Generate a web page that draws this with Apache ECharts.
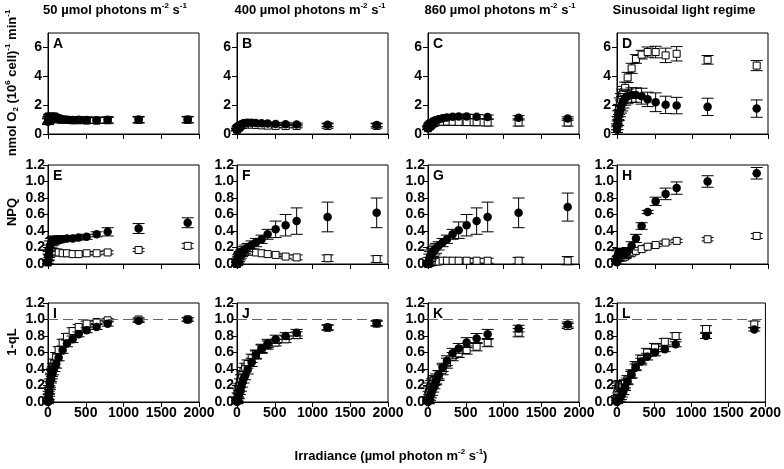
<!DOCTYPE html>
<html><head><meta charset="utf-8">
<script src="https://cdn.jsdelivr.net/npm/echarts@6/dist/echarts.min.js"></script>
<style>html,body{margin:0;padding:0;background:#fff}#c{width:784px;height:469px}</style>
</head><body><div id="c"></div>
<script>
// ---------------- DATA ----------------
const irradiance = [0, 8, 16, 26, 38, 52, 68, 86, 108, 141, 194, 251, 326, 406, 512, 644, 790, 1200, 1850];
const xTicks = [0, 500, 1000, 1500, 2000];
const o2Ticks = [0, 2, 4, 6];
const fracTicks = [0.0, 0.2, 0.4, 0.6, 0.8, 1.0, 1.2];
const columnTitles = ['50 µmol photons m^-2 s^-1', '400 µmol photons m^-2 s^-1', '860 µmol photons m^-2 s^-1', 'Sinusoidal light regime'];
const panelLetters = ['A','B','C','D','E','F','G','H','I','J','K','L'];

// Row 1: O2 evolution
const A_filled    = [0.85,0.95,1.05,1.1,1.15,1.15,1.12,1.1,1.05,1.0,1.0,0.98,0.97,0.98,0.97,0.95,0.98,1.0,1.0];
const A_filledErr = [0.2,0.22,0.25,0.25,0.25,0.25,0.25,0.25,0.25,0.22,0.22,0.22,0.22,0.22,0.22,0.22,0.22,0.22,0.22];
const A_open      = [0.9,1.0,1.1,1.15,1.2,1.2,1.18,1.15,1.1,1.05,1.0,0.98,0.95,0.95,0.93,0.93,0.95,0.97,0.98];
const A_openErr   = [0.2,0.22,0.25,0.25,0.25,0.25,0.22,0.2,0.2,0.2,0.2,0.2,0.2,0.2,0.2,0.2,0.2,0.2,0.2];

const B_filled    = [0.3,0.4,0.48,0.55,0.6,0.65,0.7,0.74,0.77,0.78,0.78,0.77,0.75,0.72,0.7,0.68,0.66,0.64,0.63];
const B_filledErr = [0.08,0.1,0.1,0.1,0.1,0.1,0.1,0.1,0.1,0.1,0.1,0.1,0.1,0.1,0.1,0.1,0.1,0.12,0.12];
const B_open      = [0.3,0.38,0.45,0.5,0.55,0.58,0.62,0.65,0.67,0.66,0.65,0.63,0.6,0.58,0.56,0.55,0.55,0.55,0.56];
const B_openErr   = [0.08,0.1,0.1,0.12,0.12,0.12,0.12,0.12,0.12,0.12,0.12,0.12,0.12,0.12,0.12,0.12,0.12,0.15,0.15];

const C_filled    = [0.4,0.5,0.58,0.65,0.72,0.78,0.84,0.9,0.96,1.02,1.1,1.15,1.2,1.22,1.22,1.2,1.17,1.12,1.07];
const C_filledErr = [0.1,0.1,0.12,0.12,0.12,0.12,0.12,0.12,0.15,0.15,0.15,0.15,0.15,0.15,0.15,0.15,0.15,0.15,0.12];
const C_open      = [0.4,0.48,0.55,0.62,0.67,0.72,0.76,0.8,0.82,0.84,0.85,0.86,0.85,0.84,0.83,0.82,0.8,0.8,0.8];
const C_openErr   = [0.1,0.12,0.15,0.15,0.18,0.2,0.2,0.2,0.22,0.22,0.22,0.25,0.25,0.25,0.25,0.25,0.25,0.25,0.25];

const D_filled    = [0.3,0.6,0.9,1.3,1.6,1.9,2.1,2.3,2.5,2.6,2.7,2.7,2.62,2.4,2.2,2.02,1.97,1.88,1.76];
const D_filledErr = [0.2,0.3,0.3,0.35,0.4,0.45,0.5,0.5,0.5,0.5,0.5,0.5,0.55,0.5,0.65,0.6,0.57,0.6,0.6];
const D_open      = [0.5,0.9,1.3,1.7,2.1,2.4,2.7,2.9,3.2,3.92,4.55,5.2,5.5,5.68,5.68,5.45,5.56,5.14,4.74];
const D_openErr   = [0.2,0.3,0.3,0.35,0.4,0.4,0.4,0.4,0.4,0.35,0.35,0.3,0.3,0.35,0.4,0.5,0.5,0.3,0.35];

// Row 2: NPQ
const E_filled    = [0.02,0.1,0.17,0.22,0.25,0.27,0.28,0.29,0.29,0.3,0.3,0.31,0.31,0.32,0.33,0.36,0.39,0.43,0.5];
const E_filledErr = [0.02,0.05,0.06,0.06,0.06,0.05,0.05,0.05,0.04,0.04,0.03,0.03,0.03,0.03,0.03,0.03,0.05,0.06,0.06];
const E_open      = [0.02,0.08,0.12,0.14,0.15,0.15,0.15,0.15,0.14,0.14,0.13,0.13,0.12,0.12,0.13,0.13,0.14,0.17,0.22];
const E_openErr   = [0.02,0.04,0.04,0.04,0.03,0.03,0.03,0.02,0.02,0.02,0.02,0.02,0.02,0.02,0.02,0.02,0.02,0.02,0.03];

const F_filled    = [0.0,0.03,0.06,0.08,0.1,0.12,0.14,0.16,0.18,0.2,0.23,0.26,0.3,0.36,0.42,0.47,0.52,0.57,0.62];
const F_filledErr = [0.02,0.04,0.05,0.05,0.05,0.05,0.05,0.05,0.05,0.05,0.05,0.05,0.05,0.06,0.1,0.13,0.16,0.18,0.18];
const F_open      = [0.0,0.04,0.07,0.1,0.12,0.13,0.14,0.15,0.15,0.15,0.15,0.14,0.13,0.12,0.11,0.09,0.08,0.07,0.06];
const F_openErr   = [0.02,0.02,0.02,0.02,0.02,0.02,0.02,0.02,0.02,0.02,0.02,0.02,0.02,0.02,0.02,0.02,0.03,0.04,0.04];

const G_filled    = [0.0,0.03,0.06,0.09,0.11,0.13,0.15,0.17,0.19,0.22,0.26,0.3,0.36,0.41,0.47,0.52,0.57,0.62,0.69];
const G_filledErr = [0.02,0.05,0.06,0.06,0.06,0.06,0.06,0.06,0.06,0.05,0.05,0.05,0.06,0.1,0.13,0.16,0.18,0.18,0.17];
const G_open      = [0.0,0.01,0.01,0.02,0.02,0.02,0.03,0.03,0.03,0.03,0.04,0.04,0.04,0.04,0.04,0.04,0.04,0.04,0.04];
const G_openErr   = [0.01,0.02,0.02,0.02,0.02,0.02,0.02,0.02,0.02,0.02,0.02,0.02,0.03,0.03,0.03,0.03,0.03,0.04,0.05];

const H_filled    = [0.02,0.1,0.12,0.13,0.13,0.12,0.12,0.12,0.13,0.15,0.22,0.31,0.46,0.63,0.76,0.85,0.92,1.0,1.1];
const H_filledErr = [0.02,0.06,0.06,0.06,0.06,0.05,0.05,0.05,0.05,0.05,0.05,0.05,0.04,0.02,0.05,0.07,0.075,0.07,0.07];
const H_open      = [0.05,0.07,0.08,0.08,0.08,0.08,0.08,0.08,0.09,0.11,0.13,0.16,0.18,0.21,0.23,0.26,0.28,0.3,0.34];
const H_openErr   = [0.02,0.02,0.02,0.02,0.02,0.02,0.02,0.02,0.02,0.02,0.02,0.02,0.02,0.02,0.02,0.02,0.02,0.02,0.03];

// Row 3: 1-qL
const I_filled    = [0.0,0.05,0.12,0.2,0.28,0.33,0.38,0.42,0.46,0.54,0.63,0.71,0.76,0.82,0.87,0.91,0.95,0.985,1.0];
const I_filledErr = [0.02,0.04,0.05,0.05,0.05,0.05,0.05,0.05,0.05,0.04,0.04,0.04,0.04,0.03,0.03,0.03,0.03,0.02,0.02];
const I_open      = [0.02,0.08,0.15,0.23,0.3,0.36,0.42,0.47,0.55,0.63,0.72,0.79,0.86,0.91,0.95,0.97,0.99,1.0,1.0];
const I_openErr   = [0.02,0.05,0.05,0.05,0.05,0.05,0.05,0.05,0.05,0.04,0.04,0.04,0.04,0.03,0.03,0.02,0.02,0.02,0.02];

const J_filled    = [0.0,0.02,0.05,0.09,0.14,0.18,0.23,0.28,0.32,0.39,0.48,0.57,0.65,0.71,0.76,0.8,0.84,0.905,0.955];
const J_filledErr = [0.02,0.04,0.05,0.05,0.05,0.05,0.05,0.05,0.05,0.05,0.05,0.05,0.05,0.05,0.05,0.04,0.04,0.03,0.03];
const J_open      = [0.02,0.06,0.11,0.17,0.23,0.28,0.33,0.37,0.42,0.46,0.53,0.58,0.64,0.69,0.72,0.76,0.81,0.9,0.95];
const J_openErr   = [0.02,0.05,0.05,0.05,0.05,0.05,0.05,0.05,0.05,0.05,0.05,0.05,0.05,0.05,0.04,0.04,0.04,0.03,0.03];

const K_filled    = [0.0,0.02,0.04,0.07,0.1,0.13,0.17,0.21,0.26,0.33,0.42,0.5,0.59,0.65,0.72,0.77,0.82,0.89,0.94];
const K_filledErr = [0.02,0.04,0.05,0.05,0.05,0.05,0.05,0.05,0.05,0.05,0.05,0.06,0.06,0.06,0.06,0.06,0.06,0.04,0.03];
const K_open      = [0.03,0.08,0.13,0.17,0.2,0.22,0.24,0.26,0.28,0.32,0.39,0.47,0.55,0.59,0.63,0.67,0.72,0.84,0.92];
const K_openErr   = [0.03,0.05,0.06,0.06,0.06,0.06,0.06,0.06,0.06,0.06,0.06,0.06,0.05,0.05,0.05,0.05,0.05,0.05,0.03];

const L_filled    = [0.0,0.02,0.03,0.04,0.05,0.07,0.1,0.13,0.18,0.25,0.33,0.42,0.49,0.55,0.6,0.64,0.7,0.8,0.88];
const L_filledErr = [0.02,0.03,0.03,0.04,0.04,0.04,0.04,0.04,0.04,0.04,0.04,0.04,0.04,0.04,0.04,0.03,0.03,0.03,0.02];
const L_open      = [0.05,0.12,0.17,0.19,0.2,0.2,0.2,0.2,0.22,0.27,0.34,0.44,0.52,0.6,0.66,0.73,0.8,0.885,0.94];
const L_openErr   = [0.03,0.06,0.06,0.06,0.06,0.06,0.05,0.05,0.05,0.05,0.05,0.05,0.05,0.05,0.05,0.04,0.04,0.04,0.04];

const panelData = [
  [A_filled,A_filledErr,A_open,A_openErr],[B_filled,B_filledErr,B_open,B_openErr],
  [C_filled,C_filledErr,C_open,C_openErr],[D_filled,D_filledErr,D_open,D_openErr],
  [E_filled,E_filledErr,E_open,E_openErr],[F_filled,F_filledErr,F_open,F_openErr],
  [G_filled,G_filledErr,G_open,G_openErr],[H_filled,H_filledErr,H_open,H_openErr],
  [I_filled,I_filledErr,I_open,I_openErr],[J_filled,J_filledErr,J_open,J_openErr],
  [K_filled,K_filledErr,K_open,K_openErr],[L_filled,L_filledErr,L_open,L_openErr]
];

// ---------------- LAYOUT ----------------
const FONT = '"Liberation Sans", Arial, sans-serif';
const colLeft = [48, 237, 428, 617];
const gridW = 151;
const rowTop = [33, 165, 303];
const rowH = [101, 99, 99];
const colTitleX = [115, 310, 500, 684];

const chart = echarts.init(document.getElementById('c'), null, {renderer: 'canvas'});

const grids = [], xAxes = [], yAxes = [], series = [], graphics = [];

function errRender(params, api) {
  const x = api.value(0), y = api.value(1), e = api.value(2);
  const t = api.coord([x, y + e]), b = api.coord([x, y - e]);
  const w = 6;
  const st = {stroke: '#000', lineWidth: 1, fill: null};
  return {type: 'group', children: [
    {type: 'line', shape: {x1: t[0], y1: t[1], x2: b[0], y2: b[1]}, style: st},
    {type: 'line', shape: {x1: t[0] - w, y1: t[1], x2: t[0] + w, y2: t[1]}, style: st},
    {type: 'line', shape: {x1: b[0] - w, y1: b[1], x2: b[0] + w, y2: b[1]}, style: st}
  ]};
}

for (let i = 0; i < 12; i++) {
  const row = Math.floor(i / 4), col = i % 4;
  grids.push({left: colLeft[col], top: rowTop[row], width: gridW, height: rowH[row],
    show: true, borderColor: '#000', borderWidth: 1, backgroundColor: 'transparent'});
  xAxes.push({type: 'value', gridIndex: i, min: xTicks[0], max: xTicks[xTicks.length - 1], interval: xTicks[1] - xTicks[0],
    axisLine: {show: true, onZero: false, lineStyle: {color: '#000', width: 1}},
    axisTick: {show: true, length: 5, lineStyle: {color: '#000'}},
    splitLine: {show: false},
    axisLabel: {show: row === 2, color: '#000', fontFamily: FONT, fontWeight: 'bold', fontSize: 14, margin: 4,
      formatter: v => String(v)}
  });
  const isO2 = row === 0;
  const yt = isO2 ? o2Ticks : fracTicks;
  yAxes.push({type: 'value', gridIndex: i, min: 0, max: isO2 ? 7 : yt[yt.length - 1],
    interval: yt[1] - yt[0],
    axisLine: {show: true, onZero: false, lineStyle: {color: '#000', width: 1}},
    axisTick: {show: true, length: 5, lineStyle: {color: '#000'}},
    splitLine: {show: false},
    axisLabel: {show: true, showMaxLabel: !isO2, color: '#000', fontFamily: FONT, fontWeight: 'bold', fontSize: 14, margin: isO2 ? 6 : 3,
      formatter: v => isO2 ? String(Math.round(v)) : (Math.round(v * 10) / 10).toFixed(1)}
  });
  const [fv, fe, ov, oe] = panelData[i];
  const mk = (vals, errs) => irradiance.map((x, k) => [x, vals[k], errs[k]]);
  series.push({type: 'custom', xAxisIndex: i, yAxisIndex: i, renderItem: errRender, encode: {x: 0, y: 1}, data: mk(ov, oe), z: 2, silent: true});
  series.push({type: 'scatter', xAxisIndex: i, yAxisIndex: i, data: mk(ov, oe), symbol: 'rect', symbolSize: 7,
    itemStyle: {color: '#fff', borderColor: '#000', borderWidth: 1, opacity: 1}, z: 3, silent: true});
  series.push({type: 'custom', xAxisIndex: i, yAxisIndex: i, renderItem: errRender, encode: {x: 0, y: 1}, data: mk(fv, fe), z: 4, silent: true});
  const fs = {type: 'scatter', xAxisIndex: i, yAxisIndex: i, data: mk(fv, fe), symbol: 'circle', symbolSize: 8.5,
    itemStyle: {color: '#000', opacity: 1}, z: 5, silent: true};
  if (row === 2) {
    fs.markLine = {silent: true, symbol: 'none', label: {show: false},
      lineStyle: {color: '#666', type: [10, 5], width: 1}, data: [{yAxis: 1.0}]};
  }
  series.push(fs);
  graphics.push({type: 'text', left: colLeft[col] + 5, top: rowTop[row] + 4,
    style: {text: panelLetters[i], font: 'bold 14px ' + FONT, fill: '#000'}});
}

function richify(s) {
  return s.split(/(\^-?\d)/).filter(p => p).map(p => p[0] === '^' ? '{sup|' + p.slice(1) + '}' : '{a|' + p + '}').join('');
}
const richStyle = {
  a: {fontSize: 13, fontWeight: 'bold', fontFamily: FONT, lineHeight: 16, color: '#000'},
  sup: {fontSize: 8, fontWeight: 'bold', fontFamily: FONT, verticalAlign: 'top', lineHeight: 16, color: '#000'},
  sub: {fontSize: 8, fontWeight: 'bold', fontFamily: FONT, verticalAlign: 'bottom', lineHeight: 16, color: '#000'}
};
for (let c = 0; c < 4; c++) {
  graphics.push({type: 'text', x: colTitleX[c], y: 10,
    style: {text: richify(columnTitles[c]), rich: richStyle, align: 'center', verticalAlign: 'middle'}});
}
graphics.push({type: 'text', x: 12, y: 83, rotation: Math.PI / 2,
  style: {text: '{a|nmol O}{sub|2}{a| (10}{sup|6}{a| cell)}{sup|-1}{a| min}{sup|-1}', rich: richStyle, align: 'center', verticalAlign: 'middle'}});
graphics.push({type: 'text', x: 12, y: 212, rotation: Math.PI / 2,
  style: {text: '{a|NPQ}', rich: richStyle, align: 'center', verticalAlign: 'middle'}});
graphics.push({type: 'text', x: 12, y: 342, rotation: Math.PI / 2,
  style: {text: '{a|1-qL}', rich: richStyle, align: 'center', verticalAlign: 'middle'}});
graphics.push({type: 'text', x: 391, y: 456,
  style: {text: richify('Irradiance (µmol photon m^-2 s^-1)'), rich: richStyle, align: 'center', verticalAlign: 'middle'}});

chart.setOption({
  animation: false,
  backgroundColor: '#fff',
  grid: grids, xAxis: xAxes, yAxis: yAxes, series: series, graphic: graphics
});
</script></body></html>
